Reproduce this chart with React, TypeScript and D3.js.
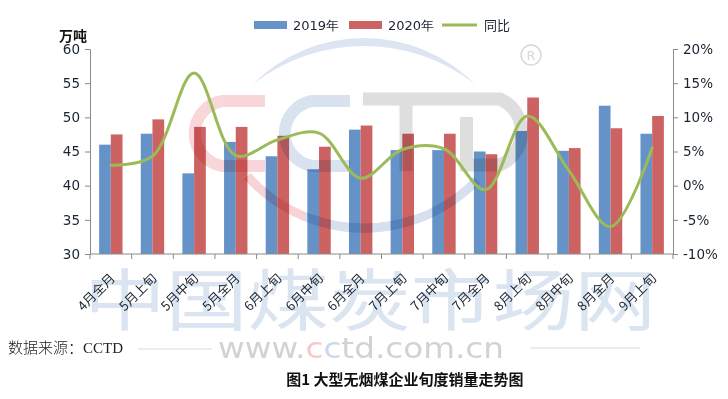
import * as d3 from 'd3';
import React, { useEffect, useRef } from 'react';

const categories = ['4月全月', '5月上旬', '5月中旬', '5月全月', '6月上旬', '6月中旬', '6月全月', '7月上旬', '7月中旬', '7月全月', '8月上旬', '8月中旬', '8月全月', '9月上旬'];
const sales2019 = [46.0, 47.6, 41.8, 46.4, 44.3, 42.4, 48.2, 45.2, 45.2, 45.0, 48.0, 45.1, 51.7, 47.6];
const sales2020 = [47.5, 49.7, 48.6, 48.6, 47.3, 45.7, 48.8, 47.6, 47.6, 44.6, 52.9, 45.5, 48.4, 50.2];
const yoy = [3.0, 4.3, 16.5, 4.4, 6.7, 7.7, 1.1, 5.3, 5.4, -0.6, 10.2, 2.2, -6.0, 5.5];
const leftTicks = [30, 35, 40, 45, 50, 55, 60];
const rightTicks = [-10, -5, 0, 5, 10, 15, 20];
const seriesNames = ['2019年', '2020年'];

const blue = '#6593c7';
const red = '#cc6262';
const green = '#9bbb59';
const axisColor = '#8a8a8a';
const textColor = '#1a2430';

type Row = { c: string; v19: number; v20: number; yoy: number };

export default function App() {
  const ref = useRef<SVGSVGElement>(null);

  useEffect(() => {
    document.body.style.margin = '0';
    const svg = d3.select(ref.current);
    svg.selectAll('*').remove();

    const rows: Row[] = categories.map((c, i) => ({ c, v19: sales2019[i], v20: sales2020[i], yoy: yoy[i] }));

    const x = d3.scaleBand().domain(categories).range([90, 673]);
    const sub = d3.scaleBand().domain(['v19', 'v20']).range([0, x.bandwidth()]).paddingOuter(0.78);
    const y = d3.scaleLinear().domain([30, 60]).range([254, 49]);
    const y2 = d3.scaleLinear().domain([-10, 20]).range([254, 49]);

    // bars
    svg.append('g')
      .selectAll('g')
      .data(rows)
      .join('g')
      .attr('transform', (d) => `translate(${x(d.c)},0)`)
      .selectAll('rect')
      .data((d) => [{ k: 'v19', v: d.v19 }, { k: 'v20', v: d.v20 }])
      .join('rect')
      .attr('x', (d) => sub(d.k)!)
      .attr('width', sub.bandwidth())
      .attr('y', (d) => y(d.v))
      .attr('height', (d) => y(30) - y(d.v))
      .attr('fill', (d) => (d.k === 'v19' ? blue : red));

    // watermark (CCTD logo), blended over the plot
    const wm = svg.append('g').style('mix-blend-mode', 'multiply');
    wm.append('path')
      .attr('d', 'M253,84 A157,157 0 0 1 475,84 A181,181 0 0 0 253,84 Z')
      .attr('fill', '#dce5f1');
    const arc = (a0: number, a1: number) => {
      const p = d3.path();
      p.arc(364, 71, 157, Math.PI / 2 - a0 * Math.PI / 180, Math.PI / 2 - a1 * Math.PI / 180, true);
      return p.toString();
    };
    wm.append('path').attr('d', arc(-48, 18)).attr('fill', 'none').attr('stroke', '#f7d3d6').attr('stroke-width', 9);
    wm.append('path').attr('d', arc(-22, 46)).attr('fill', 'none').attr('stroke', '#d6e0ee').attr('stroke-width', 9);
    wm.append('path').attr('d', 'M265,101 H222 A33,33 0 0 0 222,166 H265')
      .attr('fill', 'none').attr('stroke', '#f8d6d9').attr('stroke-width', 12);
    wm.append('path').attr('d', 'M350,101 H312 A33,33 0 0 0 312,166 H350')
      .attr('fill', 'none').attr('stroke', '#d9e3f0').attr('stroke-width', 12);
    wm.append('path').attr('d', 'M363,99 H500 A36,36 0 0 1 500,165 H460 M406,105 V171 M466.5,117 V171')
      .attr('fill', 'none').attr('stroke', '#dedede').attr('stroke-width', 13);
    wm.append('circle').attr('cx', 531).attr('cy', 55).attr('r', 10)
      .attr('fill', 'none').attr('stroke', '#d8d8d8').attr('stroke-width', 1.5);
    wm.append('text').attr('x', 531).attr('y', 60).attr('text-anchor', 'middle')
      .attr('font-family', 'DejaVu Sans').attr('font-size', 13).attr('fill', '#d8d8d8').text('R');
    wm.append('text').attr('x', 84).attr('y', 325)
      .attr('font-family', '"Noto Sans CJK SC"').attr('font-size', 67)
      .attr('textLength', 572).attr('lengthAdjust', 'spacingAndGlyphs')
      .attr('fill', '#dbe5f1').text('中国煤炭市场网');
    const www = wm.append('text').attr('x', 218).attr('y', 358)
      .attr('font-family', '"DejaVu Sans"').attr('font-size', 29)
      .attr('textLength', 286).attr('lengthAdjust', 'spacingAndGlyphs').attr('fill', '#d2d2d2');
    www.append('tspan').text('www.');
    www.append('tspan').attr('fill', '#f5c9cc').text('c');
    www.append('tspan').attr('fill', '#cbd8ea').text('c');
    www.append('tspan').text('td.com.cn');
    wm.append('line').attr('x1', 138).attr('x2', 212).attr('y1', 349).attr('y2', 349).attr('stroke', '#dadada');
    wm.append('line').attr('x1', 530).attr('x2', 640).attr('y1', 348).attr('y2', 348).attr('stroke', '#dadada');

    // yoy line
    const line = d3.line<Row>()
      .x((d) => x(d.c)! + x.bandwidth() / 2)
      .y((d) => y2(d.yoy))
      .curve(d3.curveCatmullRom.alpha(0.5));
    svg.append('path')
      .datum(rows)
      .attr('d', line)
      .attr('fill', 'none')
      .attr('stroke', green)
      .attr('stroke-width', 3)
      .attr('stroke-linecap', 'round');

    // axes
    const styleAxis = (g: d3.Selection<SVGGElement, unknown, null, undefined>) => {
      g.select('.domain').attr('stroke', axisColor);
      g.selectAll('.tick line').attr('stroke', axisColor);
      g.selectAll('.tick text').attr('fill', textColor).attr('font-size', 13.5).attr('font-family', '"DejaVu Sans"');
    };
    svg.append('g')
      .attr('transform', 'translate(90,0)')
      .call(d3.axisLeft(y).tickValues(leftTicks).tickSize(5).tickPadding(5).tickSizeOuter(5))
      .call(styleAxis);
    svg.append('g')
      .attr('transform', 'translate(673,0)')
      .call(d3.axisRight(y2).tickValues(rightTicks).tickFormat((d) => `${d}%`).tickSize(5).tickPadding(5).tickSizeOuter(5))
      .call(styleAxis);

    const bottom = svg.append('g');
    bottom.append('line').attr('x1', 90).attr('x2', 673).attr('y1', y(30)).attr('y2', y(30)).attr('stroke', axisColor);
    bottom.selectAll('line.tk')
      .data([...categories.map((c) => x(c)!), x.range()[1]])
      .join('line')
      .attr('class', 'tk')
      .attr('x1', (d) => d).attr('x2', (d) => d)
      .attr('y1', y(30)).attr('y2', y(30) + 5)
      .attr('stroke', axisColor);
    bottom.selectAll('text')
      .data(categories)
      .join('text')
      .attr('transform', (c) => `translate(${x(c)! + x.bandwidth() / 2 + 5},279) rotate(-45)`)
      .attr('text-anchor', 'end')
      .attr('font-family', '"Noto Sans CJK SC"')
      .attr('font-size', 13)
      .attr('fill', textColor)
      .text((c) => c);

    // unit label
    svg.append('text').attr('x', 87).attr('y', 41).attr('text-anchor', 'end')
      .attr('font-family', '"Noto Sans CJK SC"').attr('font-weight', 700).attr('font-size', 14)
      .attr('fill', '#111').text('万吨');

    // legend
    const legend = svg.append('g').attr('font-family', '"DejaVu Sans"').attr('font-size', 13).attr('fill', textColor);
    const legendX = [254, 349];
    seriesNames.forEach((name, i) => {
      legend.append('rect').attr('x', legendX[i]).attr('y', 21).attr('width', 33).attr('height', 8)
        .attr('fill', i === 0 ? blue : red);
      legend.append('text').attr('x', legendX[i] + 39).attr('y', 30).text(name);
    });
    legend.append('line').attr('x1', 442).attr('x2', 477).attr('y1', 25).attr('y2', 25)
      .attr('stroke', green).attr('stroke-width', 3);
    legend.append('text').attr('x', 484).attr('y', 30).attr('font-family', '"Noto Sans CJK SC"').text('同比');

    // source and caption
    const src = svg.append('text').attr('x', 8).attr('y', 353).attr('font-size', 15).attr('fill', '#222');
    src.append('tspan').attr('font-family', '"Noto Sans CJK SC"').attr('font-weight', 300).text('数据来源：');
    src.append('tspan').attr('font-family', '"Liberation Serif"').text('CCTD');
    svg.append('text').attr('x', 405).attr('y', 385).attr('text-anchor', 'middle')
      .attr('font-family', '"Noto Sans CJK SC"').attr('font-weight', 700).attr('font-size', 15)
      .attr('fill', '#111').text('图1 大型无烟煤企业旬度销量走势图');
  }, []);

  return (
    <svg
      ref={ref}
      width={728}
      height={399}
      viewBox="0 0 728 399"
      style={{ position: 'absolute', left: 0, top: 0, background: '#fff' }}
    />
  );
}
